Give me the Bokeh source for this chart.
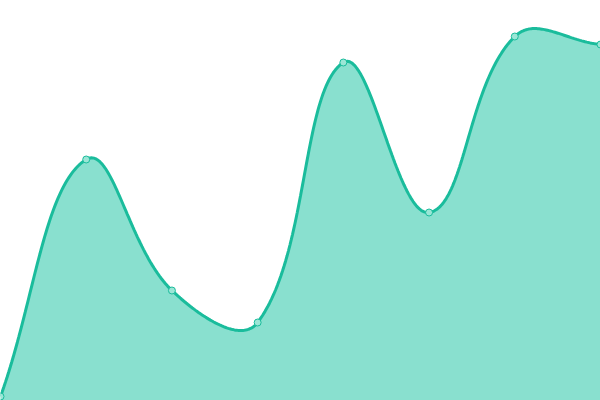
import numpy as np
from bokeh.plotting import figure
from bokeh.models import Range1d
from bokeh.embed import file_html
from bokeh.resources import INLINE

# data
labels = ["1", "2", "3", "4", "5", "6", "7", "8"]
values = [1, 60.25, 27.5, 19.5, 84.5, 47, 91, 89]

W, H = 600, 400
X_MIN, X_MAX = 0, len(values) - 1
Y_MIN, Y_MAX = 0, 100
sx = W / (X_MAX - X_MIN)
sy = H / (Y_MAX - Y_MIN)
TENSION = 0.4

xs = np.arange(len(values), dtype=float)
ys = np.array(values, dtype=float)


def control_points(i):
    cur = np.array([xs[i], ys[i]])
    prev = np.array([xs[max(i - 1, 0)], ys[max(i - 1, 0)]])
    nxt = np.array([xs[min(i + 1, len(xs) - 1)], ys[min(i + 1, len(xs) - 1)]])
    d01 = np.hypot((cur[0] - prev[0]) * sx, (cur[1] - prev[1]) * sy)
    d12 = np.hypot((nxt[0] - cur[0]) * sx, (nxt[1] - cur[1]) * sy)
    tot = d01 + d12
    s01 = d01 / tot if tot else 0
    s12 = d12 / tot if tot else 0
    fa = TENSION * s01
    fb = TENSION * s12
    cp_prev = cur - fa * (nxt - prev)
    cp_next = cur + fb * (nxt - prev)
    return cp_prev, cp_next


cps = [control_points(i) for i in range(len(xs))]
cx, cy = [], []
t = np.linspace(0, 1, 60)
for i in range(len(xs) - 1):
    p0 = np.array([xs[i], ys[i]])
    p1 = cps[i][1]
    p2 = cps[i + 1][0]
    p3 = np.array([xs[i + 1], ys[i + 1]])
    seg = ((1 - t) ** 3)[:, None] * p0 + (3 * (1 - t) ** 2 * t)[:, None] * p1 + \
          (3 * (1 - t) * t ** 2)[:, None] * p2 + (t ** 3)[:, None] * p3
    if i > 0:
        seg = seg[1:]
    cx.extend(seg[:, 0])
    cy.extend(seg[:, 1])
cx = np.array(cx)
cy = np.array(cy)

p = figure(width=W, height=H, output_backend="svg", toolbar_location=None,
           x_range=Range1d(X_MIN, X_MAX), y_range=Range1d(Y_MIN, Y_MAX),
           min_border=0, outline_line_color=None)
p.axis.visible = False
p.grid.visible = False
p.background_fill_color = "white"
p.border_fill_color = "white"

p.varea(x=cx, y1=np.full_like(cy, Y_MIN), y2=cy, fill_color="#89e0cf", fill_alpha=1.0)
p.line(cx, cy, line_color="#1abc9c", line_width=3)
p.scatter(xs, ys, size=7, fill_color="#9be6d6", line_color="#1abc9c", line_width=1)

open("out.html", "w").write(file_html(p, INLINE))
